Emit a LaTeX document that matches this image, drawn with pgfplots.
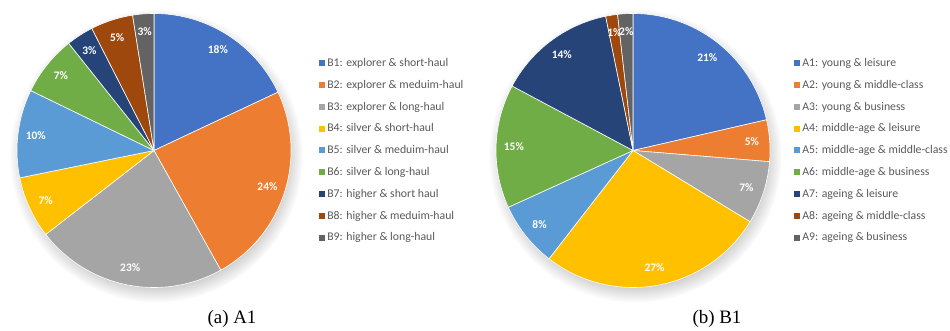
\documentclass[border=0pt]{standalone}
\usepackage{fontspec}
\setmainfont{Liberation Serif}
\newfontfamily\calibri{Carlito}
\usepackage{pgfplots}
\pgfplotsset{compat=1.18}
\usetikzlibrary{shadows}

\definecolor{c1}{HTML}{4472C4}
\definecolor{c2}{HTML}{ED7D31}
\definecolor{c3}{HTML}{A5A5A5}
\definecolor{c4}{HTML}{FFC000}
\definecolor{c5}{HTML}{5B9BD5}
\definecolor{c6}{HTML}{70AD47}
\definecolor{c7}{HTML}{264478}
\definecolor{c8}{HTML}{9E480E}
\definecolor{c9}{HTML}{636363}
\definecolor{legtext}{HTML}{595959}

\tikzset{pielabel/.style={font=\calibri\bfseries\fontsize{11.5}{12}\selectfont, text=white, inner sep=0pt}}

% #1 share (percent), #2 colour, #3 slice label, #4 legend text
\newcommand{\pieslice}[4]{%
  \pgfmathsetmacro\sa{90-3.6*\cum}%
  \pgfmathsetmacro\cumnew{\cum+#1}%
  \xdef\cum{\cumnew}%
  \pgfmathsetmacro\sb{90-3.6*\cum}%
  \pgfmathsetmacro\sm{(\sa+\sb)/2}%
  \pgfmathsetmacro\lx{0.87*cos(\sm)}%
  \pgfmathsetmacro\ly{0.87*sin(\sm)}%
  \edef\doit{\noexpand\addplot[fill=#2, draw=white, line width=0.6pt, domain=\sb:\sa, samples=80] ({cos(x)},{sin(x)}) -- (axis cs:0,0) -- cycle;}%
  \doit
  \addlegendentry{#4}%
  \edef\doit{\noexpand\node[pielabel] at (axis cs:\lx,\ly) {#3};}%
  \doit
}

\pgfplotsset{
  pieaxis/.style={
    scale only axis, width=274bp, height=274bp,
    xmin=-1, xmax=1, ymin=-1, ymax=1,
    hide axis, clip=false,
    legend cell align=left,
    legend image code/.code={\fill[##1, draw=none] (0bp,-3bp) rectangle (6bp,3bp);},
    legend style={anchor=north west, draw=none, fill=none, inner sep=0pt, outer sep=0pt,
      font=\calibri\fontsize{11.8}{13}\selectfont, text=legtext,
      row sep=10.3bp, column sep=2bp,
      nodes={inner sep=0pt, text height=9bp, text depth=2.5bp}},
  }
}

\begin{document}
\begin{tikzpicture}[x=1bp,y=1bp]
\useasboundingbox (0,0) rectangle (950,330);

\begin{axis}[pieaxis, at={(17bp,42.5bp)}, anchor=south west,
  legend style={at={(1.1033,0.8394)}}]
  \path[circular drop shadow={shadow xshift=2bp, shadow yshift=-5bp, shadow scale=1.07, opacity=0.5}] (axis cs:0,0) circle[radius=1];
  \gdef\cum{0}
  \pieslice{18.0}{c1}{18\%}{B1: explorer \& short-haul}
  \pieslice{23.9}{c2}{24\%}{B2: explorer \& meduim-haul}
  \pieslice{22.6}{c3}{23\%}{B3: explorer \& long-haul}
  \pieslice{7.3}{c4}{7\%}{B4: silver \& short-haul}
  \pieslice{10.4}{c5}{10\%}{B5: silver \& meduim-haul}
  \pieslice{7.1}{c6}{7\%}{B6: silver \& long-haul}
  \pieslice{3.2}{c7}{3\%}{B7: higher \& short haul}
  \pieslice{5.0}{c8}{5\%}{B8: higher \& meduim-haul}
  \pieslice{2.5}{c9}{3\%}{B9: higher \& long-haul}
\end{axis}

\begin{axis}[pieaxis, at={(496bp,42.5bp)}, anchor=south west,
  legend style={at={(1.0887,0.8394)}}]
  \path[circular drop shadow={shadow xshift=2bp, shadow yshift=-5bp, shadow scale=1.07, opacity=0.5}] (axis cs:0,0) circle[radius=1];
  \gdef\cum{0}
  \pieslice{21.4}{c1}{21\%}{A1: young \& leisure}
  \pieslice{4.9}{c2}{5\%}{A2: young \& middle-class}
  \pieslice{7.4}{c3}{7\%}{A3: young \& business}
  \pieslice{26.8}{c4}{27\%}{A4: middle-age \& leisure}
  \pieslice{7.7}{c5}{8\%}{A5: middle-age \& middle-class}
  \pieslice{14.6}{c6}{15\%}{A6: middle-age \& business}
  \pieslice{14.0}{c7}{14\%}{A7: ageing \& leisure}
  \pieslice{1.4}{c8}{1\%}{A8: ageing \& middle-class}
  \pieslice{1.8}{c9}{2\%}{A9: ageing \& business}
\end{axis}

\node[anchor=base, font=\fontsize{19}{22}\selectfont, inner sep=0pt] at (232,7) {(a) A1};
\node[anchor=base, font=\fontsize{19}{22}\selectfont, inner sep=0pt] at (717,7) {(b) B1};
\end{tikzpicture}
\end{document}
